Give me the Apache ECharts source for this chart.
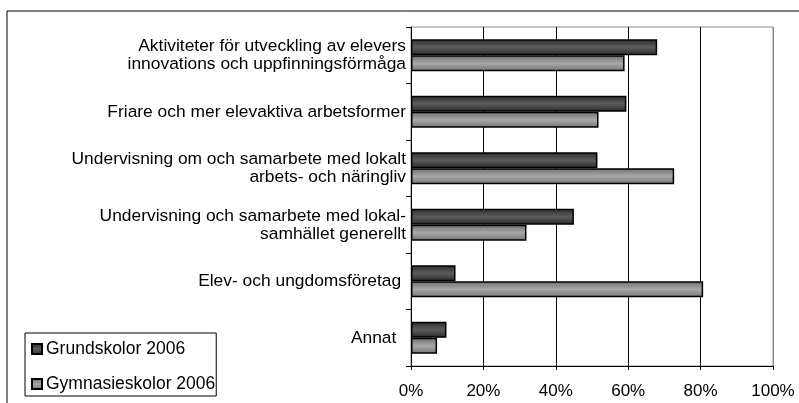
<!DOCTYPE html>
<html><head><meta charset="utf-8">
<script src="https://cdn.jsdelivr.net/npm/echarts@6/dist/echarts.min.js"></script>
<style>html,body{margin:0;padding:0;background:#fff}#c{width:799px;height:403px}</style>
</head><body><div id="c"></div>
<script>
const categories = [
  "Aktiviteter för utveckling av elevers\ninnovations och uppfinningsförmåga",
  "Friare och mer elevaktiva arbetsformer",
  "Undervisning om och samarbete med lokalt\narbets- och näringliv",
  "Undervisning och samarbete med lokal-\nsamhället generellt",
  "Elev- och ungdomsföretag ",
  "Annat  "
];
const grundskolor = [68.0, 59.5, 51.5, 45.0, 12.3, 9.8];
const gymnasieskolor = [59.0, 51.8, 72.7, 31.9, 80.7, 7.2];
const xTicks = [0, 20, 40, 60, 80, 100];
const seriesNames = ["Grundskolor 2006", "Gymnasieskolor 2006"];

const font = "'Liberation Sans', Arial, Helvetica, sans-serif";
const grad = (a, b, c) => new echarts.graphic.LinearGradient(0, 0, 0, 1, [
  {offset: 0, color: a}, {offset: 0.5, color: b}, {offset: 1, color: c}]);

const chart = echarts.init(document.getElementById('c'));
chart.setOption({
  animation: false,
  backgroundColor: '#fff',
  graphic: [{
    type: 'rect', z: -10, silent: true,
    shape: {x: 7, y: 11, width: 1000, height: 600},
    style: {fill: 'none', stroke: '#000', lineWidth: 1}
  }],
  grid: {left: 411, right: 26, top: 27, bottom: 37, show: true,
         borderColor: '#888', borderWidth: 1, backgroundColor: 'transparent'},
  legend: {
    orient: 'vertical', left: 25, top: 333,
    itemWidth: 10, itemHeight: 10, itemGap: 17,
    padding: [7, 1, 3, 6],
    borderColor: '#000', borderWidth: 1, backgroundColor: '#fff',
    icon: 'rect',
    textStyle: {fontFamily: font, fontSize: 17.5, color: '#000', padding: [0, 0, 0, -1]},
    data: seriesNames
  },
  xAxis: {
    type: 'value', min: 0, max: 100, interval: 20,
    axisLine: {show: true, lineStyle: {color: '#000', width: 1}},
    axisTick: {show: true, length: 4, lineStyle: {color: '#000'}},
    axisLabel: {formatter: v => v + '%', fontFamily: font, fontSize: 17, color: '#000', margin: 17,
      customValues: xTicks},
    splitLine: {show: true, lineStyle: {color: ['#000', '#000', '#000', '#000', '#000', '#888'], width: 1}}
  },
  yAxis: {
    type: 'category', inverse: true, data: categories,
    axisLine: {show: true, lineStyle: {color: '#000', width: 1}},
    axisTick: {show: true, length: 5, lineStyle: {color: '#000'}},
    axisLabel: {fontFamily: font, fontSize: 17.4, color: '#000', lineHeight: 18, margin: 5, align: 'right'},
    splitLine: {show: false}
  },
  series: [
    {
      name: seriesNames[0], type: 'bar', data: grundskolor,
      barGap: '0%', barCategoryGap: '43%',
      itemStyle: {color: grad('#2c2c2c', '#5c5c5c', '#2a2a2a'), borderColor: '#000', borderWidth: 1.5}
    },
    {
      name: seriesNames[1], type: 'bar', data: gymnasieskolor,
      barGap: '0%', barCategoryGap: '43%',
      itemStyle: {color: grad('#6e6e6e', '#a8a8a8', '#747474'), borderColor: '#000', borderWidth: 1.5}
    }
  ]
});
</script></body></html>
